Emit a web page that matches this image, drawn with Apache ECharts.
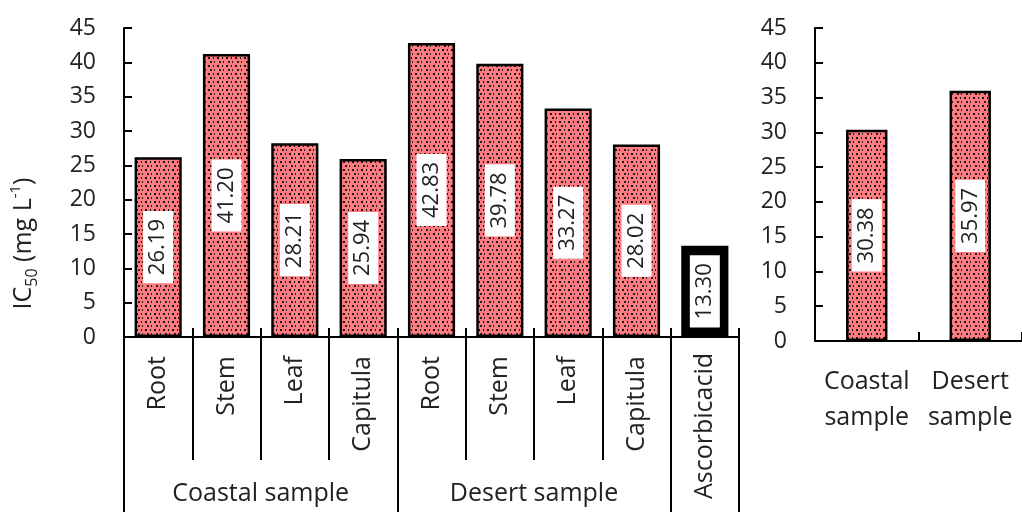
<!DOCTYPE html>
<html>
<head>
<meta charset="utf-8">
<script src="https://cdn.jsdelivr.net/npm/echarts@6/dist/echarts.min.js"></script>
<style>
html,body{margin:0;padding:0;background:#fff;}
#chart{width:1022px;height:512px;}
</style>
</head>
<body>
<div id="chart"></div>
<script>
// ---- data ----
const categories = ['Root', 'Stem', 'Leaf', 'Capitula', 'Root', 'Stem', 'Leaf', 'Capitula', 'Ascorbicacid'];
const groupNames = ['Coastal sample', 'Desert sample', ''];
const groupSizes = [4, 4, 1];
const ic50Values = [26.19, 41.20, 28.21, 25.94, 42.83, 39.78, 33.27, 28.02, 13.30];
const sampleCategories = ['Coastal\nsample', 'Desert\nsample'];
const sampleValues = [30.38, 35.97];
const yMin = 0, yMax = 45, yStep = 5;

// ---- derived ----
const FONT = 'Open Sans';
const TXT = '#222';
const groupStarts = [];
const groupCenters = [];
let acc = 0;
groupSizes.forEach(function (s, i) {
  groupStarts.push(acc);
  groupCenters.push({ at: acc + s / 2, name: groupNames[i] });
  acc += s;
});
// the reference compound is the one-member group without a group name
const refIndex = groupStarts[groupNames.indexOf('')];

function makePattern() {
  const c = document.createElement('canvas');
  c.width = 9; c.height = 8;
  const g = c.getContext('2d');
  g.fillStyle = '#ff7b7f';
  g.fillRect(0, 0, 9, 8);
  g.fillStyle = '#111';
  g.fillRect(1, 1, 2, 2);
  g.fillRect(6, 1, 1, 2);
  g.fillStyle = '#222';
  g.fillRect(3, 5, 2, 2);
  g.fillRect(7, 5, 1, 2);
  return c;
}
const pattern = { image: makePattern(), repeat: 'repeat' };

const dataLabel = {
  show: true,
  position: 'inside',
  rotate: 90,
  formatter: function (p) { return p.value.toFixed(2); },
  backgroundColor: '#fff',
  padding: [4, 8, 4, 8],
  color: TXT,
  fontFamily: FONT,
  fontSize: 22
};

const leftData = ic50Values.map(function (v, i) {
  return i === refIndex ? { value: v, itemStyle: { color: '#000' } } : v;
});

const yAxisCommon = {
  type: 'value', min: yMin, max: yMax, interval: yStep,
  axisLine: { show: true, lineStyle: { color: '#000', width: 2 } },
  axisTick: { show: true, inside: true, length: 8, lineStyle: { color: '#000', width: 2 } },
  axisLabel: { color: TXT, fontFamily: FONT, fontSize: 23, margin: 28 },
  splitLine: { show: false }
};

const chart = echarts.init(document.getElementById('chart'), null, { renderer: 'canvas' });
chart.setOption({
  animation: false,
  backgroundColor: '#fff',
  grid: [
    { left: 123, right: 283, top: 28, bottom: 175 },
    { left: 815, right: -10, top: 28, bottom: 171 }
  ],
  xAxis: [
    { // main category axis
      type: 'category', gridIndex: 0, data: categories, position: 'bottom',
      axisLine: { show: true, onZero: false, lineStyle: { color: '#000', width: 2 } },
      axisTick: { show: true, interval: 0, length: 123, lineStyle: { color: '#000', width: 2 } },
      axisLabel: {
        interval: function (i) { return i !== refIndex; },
        rotate: 90, margin: 19,
        color: TXT, fontFamily: FONT, fontSize: 25
      }
    },
    { // group boundaries + reference label
      type: 'category', gridIndex: 0, data: categories, position: 'bottom',
      axisLine: { show: false, onZero: false },
      axisTick: {
        show: true, length: 175,
        interval: function (i) { return groupStarts.indexOf(i) >= 0; },
        lineStyle: { color: '#000', width: 2 }
      },
      axisLabel: {
        interval: function (i) { return i === refIndex; },
        rotate: 90, align: 'center', margin: 89,
        color: TXT, fontFamily: FONT, fontSize: 25
      }
    },
    { // cross ticks above axis
      type: 'category', gridIndex: 0, data: categories, position: 'bottom',
      axisLine: { show: false, onZero: false },
      axisTick: { show: true, inside: true, interval: 0, length: 9, lineStyle: { color: '#000', width: 2 } },
      axisLabel: { show: false }
    },
    { // group names
      type: 'value', gridIndex: 0, min: 0, max: categories.length, interval: 1, position: 'bottom',
      axisLine: { show: false, onZero: false },
      axisTick: { show: false },
      splitLine: { show: false },
      axisLabel: {
        margin: 144, color: TXT, fontFamily: FONT, fontSize: 25,
        formatter: function (v) {
          const g = groupCenters.find(function (c) { return c.at === v && c.name; });
          return g ? g.name : '';
        }
      }
    },
    { // right chart
      type: 'category', gridIndex: 1, data: sampleCategories, position: 'bottom',
      axisLine: { show: true, onZero: false, lineStyle: { color: '#000', width: 2 } },
      axisTick: { show: true, inside: true, length: 9, interval: 0, lineStyle: { color: '#000', width: 2 } },
      axisLabel: { interval: 0, margin: 23, lineHeight: 36, color: TXT, fontFamily: FONT, fontSize: 25 }
    }
  ],
  yAxis: [
    Object.assign({}, yAxisCommon, {
      gridIndex: 0,
      name: 'IC{sub|50} (mg L{sup|-1})',
      nameLocation: 'middle', nameRotate: 90, nameGap: 84,
      nameTextStyle: {
        color: TXT, fontFamily: FONT, fontSize: 25, lineHeight: 32,
        padding: [0, 122, 0, 0],
        rich: {
          sub: { fontFamily: FONT, fontSize: 16, color: TXT, verticalAlign: 'bottom', lineHeight: 28 },
          sup: { fontFamily: FONT, fontSize: 15, color: TXT, verticalAlign: 'top', lineHeight: 32 }
        }
      }
    }),
    Object.assign({}, yAxisCommon, { gridIndex: 1 })
  ],
  series: [
    {
      type: 'bar', xAxisIndex: 0, yAxisIndex: 0, data: leftData,
      barWidth: '69%',
      itemStyle: { color: pattern, borderColor: '#000', borderWidth: 2.5 },
      label: dataLabel
    },
    {
      type: 'bar', xAxisIndex: 4, yAxisIndex: 1, data: sampleValues,
      barWidth: '40%',
      itemStyle: { color: pattern, borderColor: '#000', borderWidth: 2.5 },
      label: dataLabel
    }
  ]
});
</script>
</body>
</html>
